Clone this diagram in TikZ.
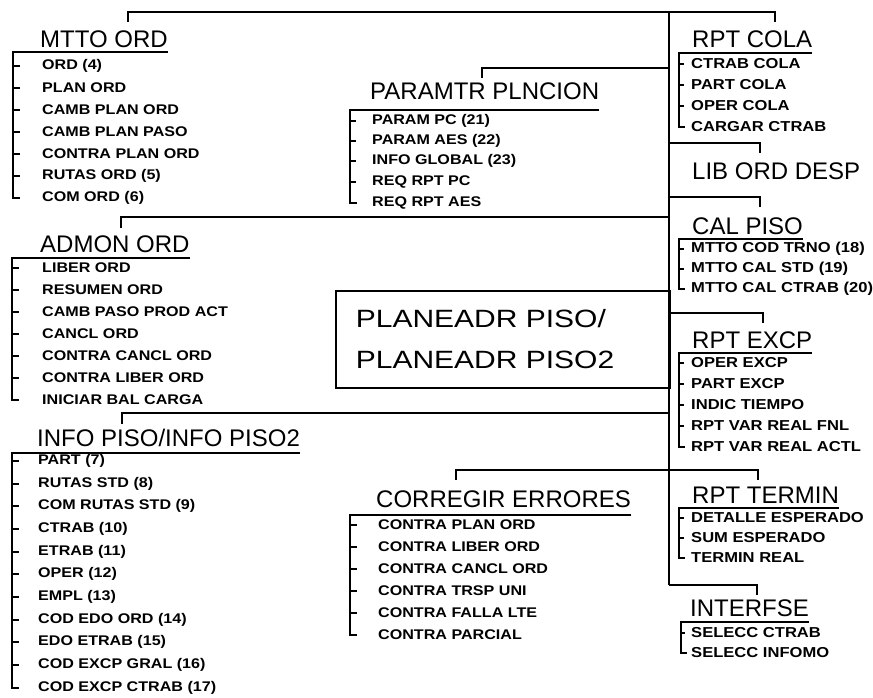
\documentclass[tikz,border=0pt]{standalone}
\usepackage{fontspec}
\usetikzlibrary{positioning}
\newfontfamily\headfont{Liberation Sans}
\newfontfamily\entryfont{Liberation Sans}[FakeStretch=1.15]
\newfontfamily\boxfont{Liberation Sans}[FakeStretch=1.2]

\begin{document}
\begin{tikzpicture}[
  x=1pt, y=-1pt,
  wire/.style={line width=1.7pt},
  head/.style={font=\headfont\fontsize{24}{24}\selectfont, anchor=base west, inner sep=0pt},
  entry/.style={font=\entryfont\bfseries\fontsize{14}{14}\selectfont, anchor=west, inner sep=0pt},
  rentry/.style={entry, font=\entryfont\bfseries\fontsize{14.4}{14.4}\selectfont},
  mainbox/.style={draw, line width=1.7pt, anchor=north west, minimum width=334pt, minimum height=97pt,
    text width=294pt, inner xsep=20pt, align=left, font=\boxfont\fontsize{25}{41}\selectfont}
]
  \useasboundingbox (0,0) rectangle (873,698);

  % bus and connectors
  \coordinate (bustop) at (669,12);
  \coordinate (busbot) at (669,585);
  \coordinate (busparam) at (669,68);
  \coordinate (buslib) at (669,143);
  \coordinate (buscal) at (669,197);
  \coordinate (busadmon) at (669,217);
  \coordinate (busexcp) at (669,313);
  \coordinate (businfo) at (669,413);
  \coordinate (buserr) at (669,470);

  \coordinate (mttoin) at (128,22);
  \coordinate (colain) at (775,22);
  \coordinate (paramin) at (482,78);
  \coordinate (admonin) at (121,228);
  \coordinate (infoin) at (122,424);
  \coordinate (errin) at (456,480);
  \coordinate (libin) at (760,153);
  \coordinate (calin) at (760,207);
  \coordinate (excpin) at (763,323);
  \coordinate (termin) at (758,480);
  \coordinate (interin) at (757,595);

  \draw[wire] (bustop) -- (busbot);
  \draw[wire] (mttoin) |- (bustop) -| (colain);
  \draw[wire] (paramin) |- (busparam);
  \draw[wire] (admonin) |- (busadmon);
  \draw[wire] (infoin) |- (businfo);
  \draw[wire] (errin) |- (buserr) -| (termin);
  \draw[wire] (buslib) -| (libin);
  \draw[wire] (buscal) -| (calin);
  \draw[wire] (busexcp) -| (excpin);
  \draw[wire] (busbot) -| (interin);

  \node[mainbox] (planea) at (335,290) {PLANEADR PISO/\\PLANEADR PISO2};

  % MTTO ORD
  \node[head] (mtto) at (40,48) {MTTO ORD};
  \node[entry] (mtto1) at (42,66) {ORD (4)};
  \node[entry] (mtto2) at (42,88) {PLAN ORD};
  \node[entry] (mtto3) at (42,110) {CAMB PLAN ORD};
  \node[entry] (mtto4) at (42,132) {CAMB PLAN PASO};
  \node[entry] (mtto5) at (42,154) {CONTRA PLAN ORD};
  \node[entry] (mtto6) at (42,176) {RUTAS ORD (5)};
  \node[entry] (mtto7) at (42,198) {COM ORD (6)};
  \coordinate (mttobr) at (13,52);
  \draw[wire] (mtto.east |- mttobr) -- (mttobr) |- ([xshift=-22pt]mtto7.west);
  \draw[wire] (mtto1.west -| mttobr) -- ++(7,0);
  \draw[wire] (mtto2.west -| mttobr) -- ++(7,0);
  \draw[wire] (mtto3.west -| mttobr) -- ++(7,0);
  \draw[wire] (mtto4.west -| mttobr) -- ++(7,0);
  \draw[wire] (mtto5.west -| mttobr) -- ++(7,0);
  \draw[wire] (mtto6.west -| mttobr) -- ++(7,0);

  % PARAMTR PLNCION
  \node[head] (param) at (370,100) {PARAMTR PLNCION};
  \node[entry] (param1) at (372,121) {PARAM PC (21)};
  \node[entry] (param2) at (372,141) {PARAM AES (22)};
  \node[entry] (param3) at (372,161) {INFO GLOBAL (23)};
  \node[entry] (param4) at (372,182) {REQ RPT PC};
  \node[entry] (param5) at (372,203) {REQ RPT AES};
  \coordinate (parambr) at (350,110);
  \draw[wire] (param.east |- parambr) -- (parambr) |- ([xshift=-15pt]param5.west);
  \draw[wire] (param1.west -| parambr) -- ++(6,0);
  \draw[wire] (param2.west -| parambr) -- ++(6,0);
  \draw[wire] (param3.west -| parambr) -- ++(6,0);
  \draw[wire] (param4.west -| parambr) -- ++(6,0);

  % ADMON ORD
  \node[head] (admon) at (40,252) {ADMON ORD};
  \node[entry] (admon1) at (42,268) {LIBER ORD};
  \node[entry] (admon2) at (42,290) {RESUMEN ORD};
  \node[entry] (admon3) at (42,312) {CAMB PASO PROD ACT};
  \node[entry] (admon4) at (42,334) {CANCL ORD};
  \node[entry] (admon5) at (42,356) {CONTRA CANCL ORD};
  \node[entry] (admon6) at (42,378) {CONTRA LIBER ORD};
  \node[entry] (admon7) at (42,400) {INICIAR BAL CARGA};
  \coordinate (admonbr) at (12,258);
  \draw[wire] (admon.east |- admonbr) -- (admonbr) |- ([xshift=-23pt]admon7.west);
  \draw[wire] (admon1.west -| admonbr) -- ++(7,0);
  \draw[wire] (admon2.west -| admonbr) -- ++(7,0);
  \draw[wire] (admon3.west -| admonbr) -- ++(7,0);
  \draw[wire] (admon4.west -| admonbr) -- ++(7,0);
  \draw[wire] (admon5.west -| admonbr) -- ++(7,0);
  \draw[wire] (admon6.west -| admonbr) -- ++(7,0);

  % INFO PISO
  \node[head] (info) at (37,446) {INFO PISO/INFO PISO2};
  \node[entry] (info1) at (38,461) {PART (7)};
  \node[entry] (info2) at (38,484) {RUTAS STD (8)};
  \node[entry] (info3) at (38,506) {COM RUTAS STD (9)};
  \node[entry] (info4) at (38,529) {CTRAB (10)};
  \node[entry] (info5) at (38,552) {ETRAB (11)};
  \node[entry] (info6) at (38,574) {OPER (12)};
  \node[entry] (info7) at (38,597) {EMPL (13)};
  \node[entry] (info8) at (38,620) {COD EDO ORD (14)};
  \node[entry] (info9) at (38,642) {EDO ETRAB (15)};
  \node[entry] (info10) at (38,665) {COD EXCP GRAL (16)};
  \node[entry] (info11) at (38,688) {COD EXCP CTRAB (17)};
  \coordinate (infobr) at (12,453);
  \draw[wire] (info.east |- infobr) -- (infobr) |- ([xshift=-19pt]info11.west);
  \draw[wire] (info1.west -| infobr) -- ++(7,0);
  \draw[wire] (info2.west -| infobr) -- ++(7,0);
  \draw[wire] (info3.west -| infobr) -- ++(7,0);
  \draw[wire] (info4.west -| infobr) -- ++(7,0);
  \draw[wire] (info5.west -| infobr) -- ++(7,0);
  \draw[wire] (info6.west -| infobr) -- ++(7,0);
  \draw[wire] (info7.west -| infobr) -- ++(7,0);
  \draw[wire] (info8.west -| infobr) -- ++(7,0);
  \draw[wire] (info9.west -| infobr) -- ++(7,0);
  \draw[wire] (info10.west -| infobr) -- ++(7,0);

  % CORREGIR ERRORES
  \node[head] (err) at (376,507) {CORREGIR ERRORES};
  \node[entry] (err1) at (378,525) {CONTRA PLAN ORD};
  \node[entry] (err2) at (378,547) {CONTRA LIBER ORD};
  \node[entry] (err3) at (378,569) {CONTRA CANCL ORD};
  \node[entry] (err4) at (378,591) {CONTRA TRSP UNI};
  \node[entry] (err5) at (378,613) {CONTRA FALLA LTE};
  \node[entry] (err6) at (378,635) {CONTRA PARCIAL};
  \coordinate (errbr) at (350,515);
  \draw[wire] (err.east |- errbr) -- (errbr) |- ([xshift=-21pt]err6.west);
  \draw[wire] (err1.west -| errbr) -- ++(7,0);
  \draw[wire] (err2.west -| errbr) -- ++(7,0);
  \draw[wire] (err3.west -| errbr) -- ++(7,0);
  \draw[wire] (err4.west -| errbr) -- ++(7,0);
  \draw[wire] (err5.west -| errbr) -- ++(7,0);

  % RPT COLA
  \node[head] (cola) at (692,48) {RPT COLA};
  \node[rentry] (cola1) at (691,64) {CTRAB COLA};
  \node[rentry] (cola2) at (691,85) {PART COLA};
  \node[rentry] (cola3) at (691,106) {OPER COLA};
  \node[rentry] (cola4) at (691,127) {CARGAR CTRAB};
  \coordinate (colabr) at (679,53);
  \draw[wire] (cola.east |- colabr) -- (colabr) |- ([xshift=-6pt]cola4.west);
  \draw[wire] (cola1.west -| colabr) -- ++(5,0);
  \draw[wire] (cola2.west -| colabr) -- ++(5,0);
  \draw[wire] (cola3.west -| colabr) -- ++(5,0);

  % LIB ORD DESP
  \node[head] (lib) at (692,179) {LIB ORD DESP};

  % CAL PISO
  \node[head] (cal) at (692,234) {CAL PISO};
  \node[rentry] (cal1) at (691,249) {MTTO COD TRNO (18)};
  \node[rentry] (cal2) at (691,269) {MTTO CAL STD (19)};
  \node[rentry] (cal3) at (691,289) {MTTO CAL CTRAB (20)};
  \coordinate (calbr) at (679,239);
  \draw[wire] (cal.east |- calbr) -- (calbr) |- ([xshift=-6pt]cal3.west);
  \draw[wire] (cal1.west -| calbr) -- ++(5,0);
  \draw[wire] (cal2.west -| calbr) -- ++(5,0);

  % RPT EXCP
  \node[head] (excp) at (692,348) {RPT EXCP};
  \node[rentry] (excp1) at (691,363) {OPER EXCP};
  \node[rentry] (excp2) at (691,384) {PART EXCP};
  \node[rentry] (excp3) at (691,405) {INDIC TIEMPO};
  \node[rentry] (excp4) at (691,426) {RPT VAR REAL FNL};
  \node[rentry] (excp5) at (691,447) {RPT VAR REAL ACTL};
  \coordinate (excpbr) at (679,353);
  \draw[wire] (excp.east |- excpbr) -- (excpbr) |- ([xshift=-6pt]excp5.west);
  \draw[wire] (excp1.west -| excpbr) -- ++(5,0);
  \draw[wire] (excp2.west -| excpbr) -- ++(5,0);
  \draw[wire] (excp3.west -| excpbr) -- ++(5,0);
  \draw[wire] (excp4.west -| excpbr) -- ++(5,0);

  % RPT TERMIN
  \node[head] (term) at (692,503) {RPT TERMIN};
  \node[rentry] (term1) at (691,518) {DETALLE ESPERADO};
  \node[rentry] (term2) at (691,538) {SUM ESPERADO};
  \node[rentry] (term3) at (691,558) {TERMIN REAL};
  \coordinate (termbr) at (679,508);
  \draw[wire] (term.east |- termbr) -- (termbr) |- ([xshift=-6pt]term3.west);
  \draw[wire] (term1.west -| termbr) -- ++(5,0);
  \draw[wire] (term2.west -| termbr) -- ++(5,0);

  % INTERFSE
  \node[head] (inter) at (690,616) {INTERFSE};
  \node[rentry] (inter1) at (691,633) {SELECC CTRAB};
  \node[rentry] (inter2) at (691,653) {SELECC INFOMO};
  \coordinate (interbr) at (681,622);
  \draw[wire] (inter.east |- interbr) -- (interbr) |- ([xshift=-4pt]inter2.west);
  \draw[wire] (inter1.west -| interbr) -- ++(4,0);
\end{tikzpicture}
\end{document}
